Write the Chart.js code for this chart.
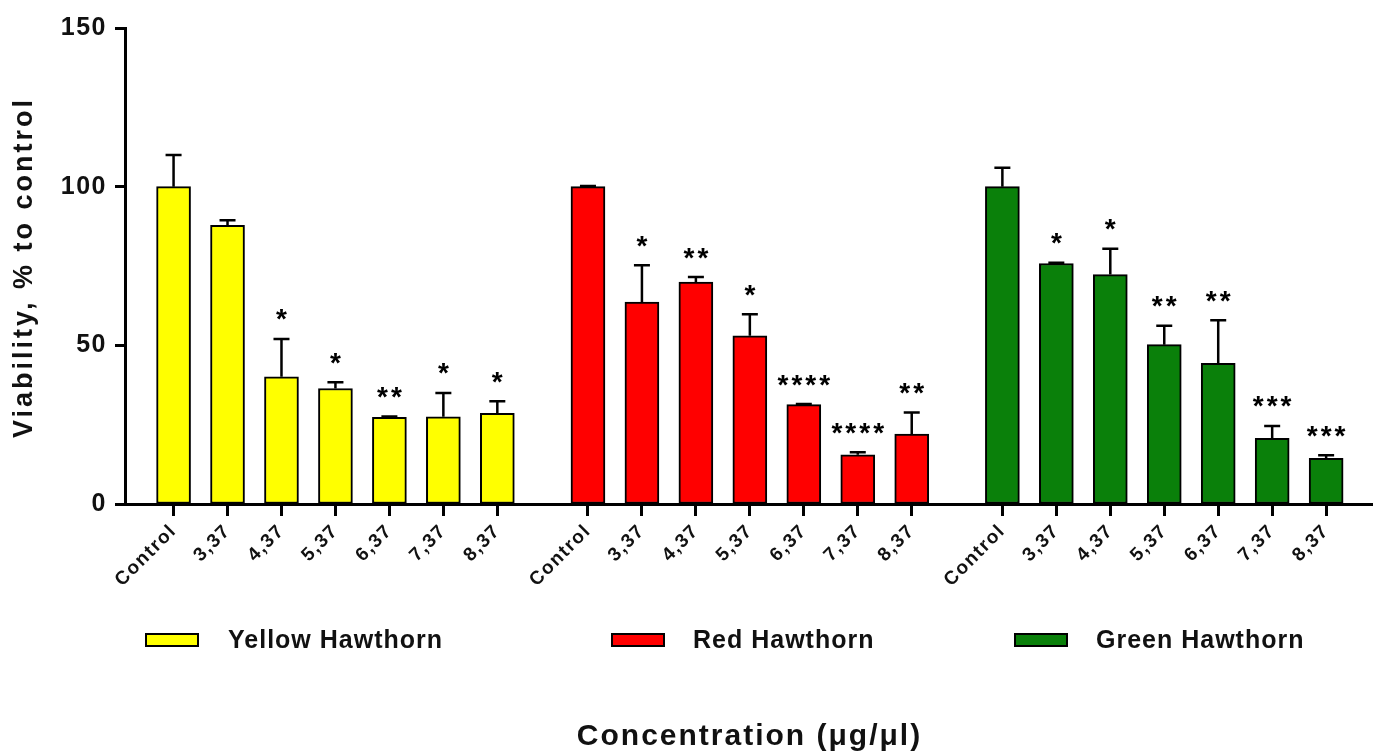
<!DOCTYPE html>
<html><head><meta charset="utf-8">
<script src="https://cdn.jsdelivr.net/npm/chart.js@4.4.1/dist/chart.umd.min.js"></script>
<style>html,body{margin:0;padding:0;background:#fff;overflow:hidden}canvas{display:block}</style>
</head><body>
<canvas id="c" width="1377" height="754"></canvas>
<script>
// ---- data ----
const categories = ['Control', '3,37', '4,37', '5,37', '6,37', '7,37', '8,37'];
const groupNames = ['Yellow Hawthorn', 'Red Hawthorn', 'Green Hawthorn'];

const yellowValues = [100, 87.8, 40.1, 36.4, 27.3, 27.5, 28.6];
const yellowErrors = [10.0, 1.6, 11.9, 2.0, 0.3, 7.5, 3.8];
const yellowStars  = ['', '', '*', '*', '**', '*', '*'];

const redValues = [100, 63.6, 69.9, 53.0, 31.3, 15.5, 22.0];
const redErrors = [0.2, 11.6, 1.6, 6.8, 0.2, 0.8, 6.8];
const redStars  = ['', '*', '**', '*', '****', '****', '**'];

const greenValues = [100, 75.8, 72.3, 50.2, 44.3, 20.7, 14.4];
const greenErrors = [6.0, 0.2, 8.1, 6.0, 13.6, 3.9, 1.0];
const greenStars  = ['', '*', '*', '**', '**', '***', '***'];

const yTickValues = [0, 50, 100, 150];
const xTitle = 'Concentration (\u03bcg/\u03bcl)';
const yTitle = 'Viability, % to control';

// ---- layout helpers ----
const FONT = "'Liberation Sans', Arial, sans-serif";
const GROUP_GAP = 0.68;
const slot = (g, i) => g * (categories.length + GROUP_GAP) + i;

const series = [
  { label: groupNames[0], values: yellowValues, errors: yellowErrors, stars: yellowStars, color: '#ffff00' },
  { label: groupNames[1], values: redValues,    errors: redErrors,    stars: redStars,    color: '#ff0000' },
  { label: groupNames[2], values: greenValues,  errors: greenErrors,  stars: greenStars,  color: '#0a800a' }
];

const tickSlots = [];
const tickLabels = [];
series.forEach((s, g) => categories.forEach((c, i) => { tickSlots.push(slot(g, i)); tickLabels.push(c); }));

const datasets = series.map((s, g) => ({
  label: s.label,
  data: s.values.map((v, i) => ({ x: slot(g, i), y: v })),
  backgroundColor: s.color,
  borderColor: '#000',
  borderWidth: 2,
  borderSkipped: false,
  barThickness: 34,
  grouped: false,
  errors: s.errors,
  stars: s.stars
}));

const legendBoxX = [146, 612, 1015];
const legendTextX = [228, 693, 1096];

const decor = {
  id: 'decor',
  beforeDraw(chart) {
    chart.ctx.letterSpacing = '1.5px';
  },
  afterDatasetsDraw(chart) {
    const ctx = chart.ctx;
    const yScale = chart.scales.y;
    ctx.save();
    ctx.strokeStyle = '#000';
    ctx.fillStyle = '#000';
    ctx.lineWidth = 2.5;
    chart.data.datasets.forEach((ds, di) => {
      const meta = chart.getDatasetMeta(di);
      meta.data.forEach((bar, i) => {
        const v = ds.data[i].y;
        const e = ds.errors[i];
        const top = yScale.getPixelForValue(v + e);
        const x = bar.x;
        ctx.beginPath();
        ctx.moveTo(x, bar.y);
        ctx.lineTo(x, top);
        ctx.moveTo(x - 8, top);
        ctx.lineTo(x + 8, top);
        ctx.stroke();
        const st = ds.stars[i];
        if (st) {
          ctx.font = 'bold 28px ' + FONT;
          ctx.letterSpacing = '3px';
          ctx.textAlign = 'center';
          ctx.textBaseline = 'alphabetic';
          const m = ctx.measureText('*');
          const cy = top - 24;
          const base = cy + (m.actualBoundingBoxAscent - m.actualBoundingBoxDescent) / 2;
          ctx.fillText(st, x + 1.5, base);
        }
      });
    });
    ctx.restore();
  },
  afterDraw(chart) {
    const ctx = chart.ctx;
    ctx.save();
    // legend
    series.forEach((s, g) => {
      ctx.fillStyle = s.color;
      ctx.fillRect(legendBoxX[g], 634, 52, 12);
      ctx.strokeStyle = '#000';
      ctx.lineWidth = 2;
      ctx.strokeRect(legendBoxX[g], 634, 52, 12);
      ctx.fillStyle = '#111';
      ctx.font = 'bold 25px ' + FONT;
      ctx.letterSpacing = '1px';
      ctx.textAlign = 'left';
      ctx.textBaseline = 'alphabetic';
      ctx.fillText(s.label, legendTextX[g], 648);
    });
    // x title
    const ca = chart.chartArea;
    ctx.font = 'bold 30px ' + FONT;
    ctx.letterSpacing = '2px';
    ctx.textAlign = 'center';
    ctx.textBaseline = 'alphabetic';
    ctx.fillStyle = '#111';
    ctx.fillText(xTitle, (ca.left + ca.right) / 2 + 1, 745);
    // y title
    ctx.translate(25, 269);
    ctx.rotate(-Math.PI / 2);
    ctx.font = 'bold 27px ' + FONT;
    ctx.letterSpacing = '3px';
    ctx.textBaseline = 'middle';
    ctx.fillText(yTitle, 1.5, 0);
    ctx.restore();
  }
};

new Chart(document.getElementById('c'), {
  type: 'bar',
  data: { datasets },
  options: {
    responsive: false,
    devicePixelRatio: 1,
    animation: false,
    layout: { padding: { top: 28, right: 5, left: 0, bottom: 0 } },
    plugins: { legend: { display: false }, tooltip: { enabled: false } },
    scales: {
      x: {
        type: 'linear',
        min: -0.9,
        max: slot(2, categories.length - 1) + 0.85,
        offset: false,
        afterBuildTicks: sc => { sc.ticks = tickSlots.map(v => ({ value: v })); },
        afterFit: sc => { sc.height = 250; },
        ticks: {
          autoSkip: false, minRotation: 45, maxRotation: 45, padding: 4, color: '#111',
          font: { family: FONT, size: 19, weight: 'bold' },
          callback: (v, i) => tickLabels[i]
        },
        grid: { offset: false, drawOnChartArea: false, drawTicks: true, tickLength: 12, tickWidth: 3, tickColor: '#000' },
        border: { display: true, color: '#000', width: 3 }
      },
      y: {
        min: 0, max: 150,
        afterBuildTicks: sc => { sc.ticks = yTickValues.map(v => ({ value: v })); },
        afterFit: sc => { sc.width = 125; },
        ticks: { padding: 8, color: '#111', font: { family: FONT, size: 25, weight: 'bold' } },
        grid: { drawOnChartArea: false, drawTicks: true, tickLength: 10, tickWidth: 3, tickColor: '#000' },
        border: { display: true, color: '#000', width: 3 }
      }
    }
  },
  plugins: [decor]
});
</script>
</body></html>
